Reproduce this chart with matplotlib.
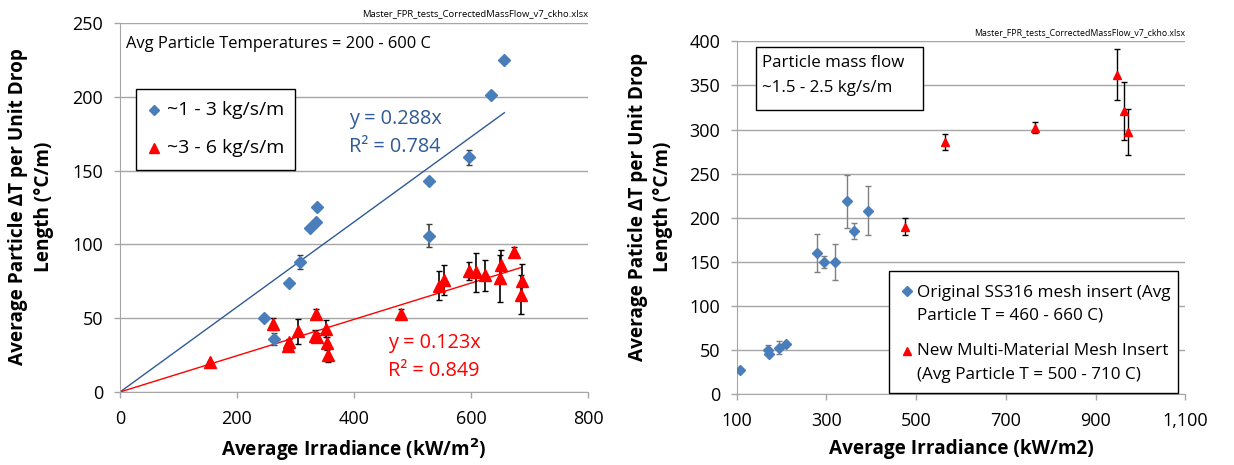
import numpy as np
import matplotlib
matplotlib.use("Agg")
import matplotlib.pyplot as plt
from matplotlib.ticker import FuncFormatter
from matplotlib.patches import Rectangle
from matplotlib.lines import Line2D

plt.rcParams['font.family'] = ['Open Sans', 'DejaVu Sans']

# ---- Left chart data ----
blue_x = [247, 264, 289, 307, 325, 335, 337, 528, 529, 596, 634, 657]
blue_y = [50, 36, 74, 88, 111, 115, 125, 106, 143, 159, 201, 225]
blue_err = [0, 4, 1.5, 5, 0, 0, 1.5, 8, 0, 5, 2, 1]

red_x = [153, 262, 289, 287, 304, 335, 333, 336, 352, 354, 355, 480,
         546, 554, 597, 609, 624, 651, 649, 674, 688, 686]
red_y = [20, 46, 34, 31, 41, 53, 38, 37, 43, 33, 25, 53,
         72, 76, 82, 81, 79, 86, 77, 95, 75, 66]
red_err = [0, 4, 2, 0, 8.5, 3.5, 4, 3, 6, 4.5, 5, 3.5,
           10, 10, 6, 13.5, 10.5, 10, 16, 3, 12, 13]

blue_slope, red_slope = 0.288, 0.123

# ---- Right chart data ----
orig_x = [108, 169, 171, 194, 210, 279, 295, 319, 345, 361, 393]
orig_y = [27, 50, 46, 53, 57, 160, 150, 150, 219, 185, 208]
orig_err = [0, 6, 3, 7, 2, 21.5, 7, 20.5, 30, 9, 28]

new_x = [475, 565, 766, 947, 964, 972]
new_y = [190, 286, 302, 362, 321, 297]
new_err = [10, 9, 6, 29, 33, 26]

BLUE = '#4A7EBB'
DKBLUE = '#2F5A96'
RED = '#FF0000'
GRID = '#A6A6A6'
W, H = 1234, 465

fig = plt.figure(figsize=(W / 100, H / 100), dpi=100)


def px(x, y):
    # pixel position (from top-left) -> figure fraction
    return x / W, 1 - y / H


def style(ax):
    for s in ['top', 'right']:
        ax.spines[s].set_visible(False)
    for s in ['left', 'bottom']:
        ax.spines[s].set_color(GRID)
    ax.yaxis.grid(True, color=GRID, linewidth=1)
    ax.set_axisbelow(True)
    ax.tick_params(axis='both', labelsize=13, color=GRID, length=4, width=1)
    ax.tick_params(axis='x', pad=9)
    ax.tick_params(axis='y', pad=8)


def box(x0, y0, x1, y1):
    (a, b), (c, d) = px(x0, y1), px(x1, y0)
    fig.patches.append(Rectangle((a, b), c - a, d - b, transform=fig.transFigure,
                                 fc='white', ec='black', lw=1, zorder=5))


def key(x, y, marker, color, ms):
    fx, fy = px(x, y)
    fig.add_artist(Line2D([fx], [fy], marker=marker, color=color, ms=ms,
                          transform=fig.transFigure, zorder=6))


def label(x, y, s, size, **kw):
    fx, fy = px(x, y)
    fig.text(fx, fy, s, fontsize=size, va='center', zorder=6, **kw)


# ---------------- Left ----------------
ax1 = fig.add_axes([120 / W, 1 - 392 / H, 468 / W, 369 / H])
style(ax1)
xs = np.array([0, max(blue_x)])
ax1.plot(xs, blue_slope * xs, color=DKBLUE, lw=1, zorder=2)
xs = np.array([0, max(red_x) - 2])
ax1.plot(xs, red_slope * xs, color=RED, lw=1, zorder=2)

ax1.errorbar(blue_x, blue_y, yerr=blue_err, fmt='D', color=BLUE, ms=6,
             ecolor='#404040', elinewidth=1.2, capsize=2.5, zorder=3)
ax1.errorbar(red_x, red_y, yerr=red_err, fmt='^', color=RED, ms=8.5,
             ecolor='black', elinewidth=1.2, capsize=2.5, zorder=3)

ax1.set_xlim(0, 800)
ax1.set_ylim(0, 250)
ax1.set_xticks([0, 200, 400, 600, 800])
ax1.set_yticks(range(0, 251, 50))
ax1.set_xlabel('Average Irradiance (kW/m$^\\mathbf{2}$)', fontsize=13.7,
               fontweight='bold', labelpad=6)

ax1.text(391, 185, 'y = 0.288x', color=DKBLUE, fontsize=14.3, va='center')
ax1.text(391, 166, 'R\u00b2 = 0.784', color=DKBLUE, fontsize=14.3, va='center')
ax1.text(458, 33, 'y = 0.123x', color=RED, fontsize=14.3, va='center')
ax1.text(458, 14.4, 'R\u00b2 = 0.849', color=RED, fontsize=14.3, va='center')

label(126, 43.5, 'Avg Particle Temperatures = 200 - 600 C', 11.9)
label(588, 14, 'Master_FPR_tests_CorrectedMassFlow_v7_ckho.xlsx', 6.8, ha='right')

# legend box (left)
box(136, 89, 295, 170)
key(154, 110, 'D', BLUE, 5)
label(167, 110, '~1 - 3 kg/s/m', 14)
key(154, 148, '^', RED, 6.5)
label(167, 148, '~3 - 6 kg/s/m', 14)

fig.text(*px(31, 207), 'Average Particle \u0394T per Unit Drop\nLength (\u00b0C/m)',
         rotation=90, ha='center', va='center', multialignment='center',
         fontsize=13.7, fontweight='bold', linespacing=1.45)

# ---------------- Right ----------------
ax2 = fig.add_axes([736.7 / W, 1 - 394.3 / H, 448.6 / W, 353 / H])
style(ax2)
ax2.errorbar(orig_x, orig_y, yerr=orig_err, fmt='D', color=BLUE, ms=5.5,
             ecolor='#7F7F7F', elinewidth=1, capsize=2, zorder=3)
ax2.errorbar(new_x, new_y, yerr=new_err, fmt='^', color=RED, ms=6,
             ecolor='black', elinewidth=1, capsize=2, zorder=3)

ax2.set_xlim(100, 1100)
ax2.set_ylim(0, 400)
ax2.set_xticks([100, 300, 500, 700, 900, 1100])
ax2.xaxis.set_major_formatter(FuncFormatter(lambda v, p: f'{int(v):,}'))
ax2.set_yticks(range(0, 401, 50))
ax2.set_xlabel('Average Irradiance (kW/m2)', fontsize=13.7,
               fontweight='bold', labelpad=6)

label(1185, 33, 'Master_FPR_tests_CorrectedMassFlow_v7_ckho.xlsx', 6.3, ha='right')

# text box (right)
box(756, 47, 923, 110)
label(762, 63, 'Particle mass flow', 12.2)
label(762, 88, '~1.5 - 2.5 kg/s/m', 12.2)

# legend box (right)
box(888.7, 271, 1178, 392.7)
key(907, 291, 'D', BLUE, 5)
label(917, 293, 'Original SS316 mesh insert (Avg', 12.3)
label(917, 316, 'Particle T = 460 - 660 C)', 12.3)
key(907, 351, '^', RED, 5.5)
label(917, 351, 'New Multi-Material Mesh Insert', 12.3)
label(917, 375, '(Avg Particle T = 500 - 710 C)', 12.3)

fig.text(*px(650.5, 207), 'Average Paticle \u0394T per Unit Drop\nLength (\u00b0C/m)',
         rotation=90, ha='center', va='center', multialignment='center',
         fontsize=13.7, fontweight='bold', linespacing=1.3)

fig.savefig('out.png', dpi=100)
